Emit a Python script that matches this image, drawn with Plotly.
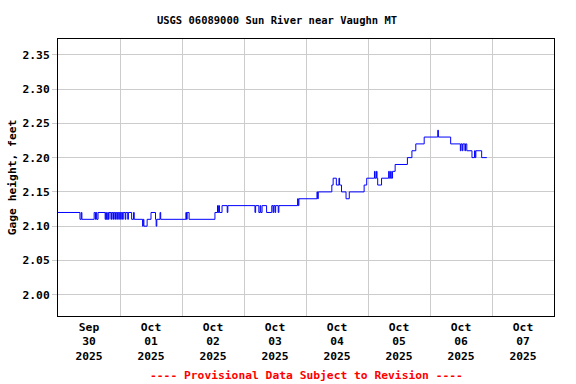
import plotly.graph_objects as go

# Gage height step changes (time the value starts, value in feet)
step_times = [
    "2025-09-30 00:00", "2025-09-30 08:30", "2025-09-30 09:00", "2025-09-30 09:15",
    "2025-09-30 14:00", "2025-09-30 14:30", "2025-09-30 14:45", "2025-09-30 15:00",
    "2025-09-30 15:30", "2025-09-30 18:15", "2025-09-30 18:30", "2025-09-30 18:45",
    "2025-09-30 19:15", "2025-09-30 19:30", "2025-09-30 19:45", "2025-09-30 20:30",
    "2025-09-30 20:45", "2025-09-30 21:15", "2025-09-30 21:30", "2025-09-30 22:00",
    "2025-09-30 22:15", "2025-09-30 22:45", "2025-09-30 23:00", "2025-09-30 23:30",
    "2025-09-30 23:45",
    "2025-10-01 00:15", "2025-10-01 00:30", "2025-10-01 01:00", "2025-10-01 01:15",
    "2025-10-01 02:00", "2025-10-01 02:15", "2025-10-01 03:00", "2025-10-01 03:15",
    "2025-10-01 04:30", "2025-10-01 05:15", "2025-10-01 05:30",
    "2025-10-01 08:45", "2025-10-01 09:00", "2025-10-01 09:15", "2025-10-01 10:30",
    "2025-10-01 12:00", "2025-10-01 13:45", "2025-10-01 14:00", "2025-10-01 14:15",
    "2025-10-01 15:30", "2025-10-01 15:45",
    "2025-10-02 01:30", "2025-10-02 01:45", "2025-10-02 02:00", "2025-10-02 02:45",
    "2025-10-02 12:45", "2025-10-02 13:45", "2025-10-02 14:00", "2025-10-02 14:15",
    "2025-10-02 14:30", "2025-10-02 15:30", "2025-10-02 17:30", "2025-10-02 17:45",
    "2025-10-03 04:15", "2025-10-03 04:30", "2025-10-03 05:45", "2025-10-03 06:15",
    "2025-10-03 06:30", "2025-10-03 07:00", "2025-10-03 08:45", "2025-10-03 10:45",
    "2025-10-03 11:15", "2025-10-03 11:30", "2025-10-03 12:00", "2025-10-03 12:15",
    "2025-10-03 13:15", "2025-10-03 13:30", "2025-10-03 20:45", "2025-10-03 21:00",
    "2025-10-03 21:15",
    "2025-10-04 04:15", "2025-10-04 04:30", "2025-10-04 04:45", "2025-10-04 10:00",
    "2025-10-04 10:30", "2025-10-04 11:45", "2025-10-04 12:45", "2025-10-04 13:00",
    "2025-10-04 13:45", "2025-10-04 15:30", "2025-10-04 16:45", "2025-10-04 22:30",
    "2025-10-04 23:30",
    "2025-10-05 02:30", "2025-10-05 02:45", "2025-10-05 03:15", "2025-10-05 03:30",
    "2025-10-05 03:45", "2025-10-05 05:15", "2025-10-05 08:00", "2025-10-05 08:15",
    "2025-10-05 08:45", "2025-10-05 09:00", "2025-10-05 09:30", "2025-10-05 10:30",
    "2025-10-05 15:15", "2025-10-05 17:00", "2025-10-05 18:30", "2025-10-05 21:45",
    "2025-10-06 03:00", "2025-10-06 03:15", "2025-10-06 08:00", "2025-10-06 11:45",
    "2025-10-06 12:00", "2025-10-06 12:30", "2025-10-06 12:45", "2025-10-06 13:30",
    "2025-10-06 13:45", "2025-10-06 14:15", "2025-10-06 16:15", "2025-10-06 17:15",
    "2025-10-06 17:30", "2025-10-06 17:45", "2025-10-06 20:00", "2025-10-06 22:00",
]
step_values = [
    2.12, 2.11, 2.12, 2.11,
    2.12, 2.11, 2.12, 2.11,
    2.12, 2.11, 2.12, 2.11,
    2.12, 2.11, 2.12, 2.11,
    2.12, 2.11, 2.12, 2.11,
    2.12, 2.11, 2.12, 2.11,
    2.12,
    2.11, 2.12, 2.11, 2.12,
    2.11, 2.12, 2.11, 2.12,
    2.11, 2.12, 2.11,
    2.10, 2.11, 2.10, 2.11,
    2.12, 2.11, 2.10, 2.11,
    2.12, 2.11,
    2.12, 2.11, 2.12, 2.11,
    2.12, 2.13, 2.12, 2.13,
    2.12, 2.13, 2.12, 2.13,
    2.12, 2.13, 2.12, 2.13,
    2.12, 2.13, 2.12, 2.13,
    2.12, 2.13, 2.12, 2.13,
    2.12, 2.13, 2.14, 2.13,
    2.14,
    2.15, 2.14, 2.15, 2.16,
    2.17, 2.16, 2.17, 2.16,
    2.15, 2.14, 2.15, 2.16,
    2.17,
    2.18, 2.17, 2.18, 2.17,
    2.16, 2.17, 2.18, 2.17,
    2.18, 2.17, 2.18, 2.19,
    2.20, 2.21, 2.22, 2.23,
    2.24, 2.23, 2.22, 2.21,
    2.22, 2.21, 2.22, 2.21,
    2.22, 2.21, 2.20, 2.21,
    2.20, 2.21, 2.20, 2.20,
]

title_text = "USGS 06089000 Sun River near Vaughn MT"
y_label = "Gage height, feet"
footer_text = "---- Provisional Data Subject to Revision ----"
y_ticks = [2.00, 2.05, 2.10, 2.15, 2.20, 2.25, 2.30, 2.35]
x_range = ["2025-09-30 00:00", "2025-10-08 00:00"]
y_range = [1.969, 2.373]

FONT = "DejaVu Sans Mono"

fig = go.Figure()
fig.add_trace(go.Scatter(
    x=step_times, y=step_values, mode="lines", line_shape="hv",
    line=dict(color="#0000FF", width=1), showlegend=False,
))

fig.update_layout(
    width=576, height=384,
    margin=dict(l=58, r=22, t=39, b=68, autoexpand=False),
    paper_bgcolor="white", plot_bgcolor="white",
    font=dict(family=FONT, size=11, color="black", weight="bold"),
    title=dict(text=title_text, x=277 / 576, xanchor="center",
               y=1 - 20 / 384, yanchor="middle",
               font=dict(family=FONT, size=10.5, color="black", weight="bold")),
    showlegend=False,
)

fig.update_xaxes(
    range=x_range, type="date", automargin=False,
    tick0="2025-09-30", dtick=86400000, ticklabelmode="period",
    tickformat="%b<br>%d<br>%Y",
    showgrid=True, gridcolor="#CCCCCC", gridwidth=1,
    showline=True, linecolor="black", linewidth=1, mirror=True,
    ticks="", zeroline=False,
    tickfont=dict(family=FONT, size=11.3, color="black", weight="bold"),
)
fig.update_yaxes(
    range=y_range, tickvals=y_ticks, tickformat=".2f", automargin=False,
    showgrid=True, gridcolor="#CCCCCC", gridwidth=1,
    showline=True, linecolor="black", linewidth=1, mirror=True,
    ticks="outside", ticklen=5, tickcolor="#CCCCCC", zeroline=False,
    tickfont=dict(family=FONT, size=11.3, color="black", weight="bold"),
    title=dict(text=y_label, standoff=3,
               font=dict(family=FONT, size=11.3, color="black", weight="bold")),
)

fig.add_annotation(
    text=footer_text, xref="paper", yref="paper",
    x=0.5, y=(316 - 375) / 277, xanchor="center", yanchor="middle",
    showarrow=False,
    font=dict(family=FONT, size=11.3, color="#FF0000", weight="bold"),
)

fig.write_html("out.html", config={"displayModeBar": False},
               post_script="document.body.style.margin='0';")
